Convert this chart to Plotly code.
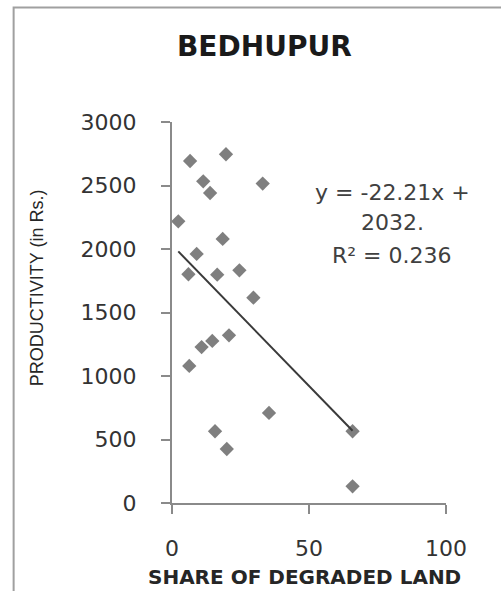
import plotly.graph_objects as go

# Data
share_degraded = [6.6, 19.7, 11.4, 13.9, 33.1, 2.3, 18.5, 9.0, 6.0, 16.5, 24.6,
                  29.7, 20.8, 14.7, 10.8, 6.3, 35.4, 15.7, 20.0, 65.9, 65.9]
productivity = [2693, 2746, 2533, 2441, 2515, 2218, 2079, 1961, 1801, 1798, 1832,
                1617, 1320, 1276, 1228, 1079, 709, 565, 425, 565, 131]
slope = -22.21
intercept = 2032
r2 = 0.236
x_ticks = [0, 50, 100]
y_ticks = [0, 500, 1000, 1500, 2000, 2500, 3000]

x_line = [min(share_degraded), max(share_degraded)]
y_line = [slope * v + intercept for v in x_line]

fig = go.Figure()
fig.add_trace(go.Scatter(
    x=share_degraded, y=productivity, mode="markers",
    marker=dict(symbol="diamond", size=11, color="#7f7f7f"),
    showlegend=False, hoverinfo="skip"))
fig.add_trace(go.Scatter(
    x=x_line, y=y_line, mode="lines",
    line=dict(color="#3a3a3a", width=2),
    showlegend=False, hoverinfo="skip"))

axis_col = "#8a8a8a"
tick_font = dict(family="DejaVu Sans", size=22, color="#333333")

def ann(text, x, y, font, **kw):
    return dict(text=text, xref="paper", yref="paper", x=x, y=y,
                xanchor="center", yanchor="middle", showarrow=False, font=font, **kw)

eq_font = dict(family="DejaVu Sans", size=22, color="#404040")

fig.update_layout(
    width=501, height=591,
    margin=dict(l=172, r=55, t=122, b=88),
    paper_bgcolor="white", plot_bgcolor="white",
    xaxis=dict(range=[0, 100], tickvals=x_ticks, showgrid=False, zeroline=False,
               showline=True, linecolor=axis_col, linewidth=2,
               ticks="outside", ticklen=9, tickwidth=2, tickcolor=axis_col,
               tickfont=tick_font, ticklabelstandoff=16),
    yaxis=dict(range=[0, 3000], tickvals=y_ticks, showgrid=False, zeroline=False,
               showline=True, linecolor=axis_col, linewidth=2,
               ticks="outside", ticklen=9, tickwidth=2, tickcolor=axis_col,
               tickfont=tick_font, ticklabelstandoff=20),
    shapes=[dict(type="rect", xref="paper", yref="paper",
                 x0=-0.578, x1=1.25, y0=-0.3, y1=1.3005,
                 line=dict(color="#a0a0a0", width=2))],
    annotations=[
        ann("<b>BEDHUPUR</b>", 0.336, 1.197,
            dict(family="DejaVu Sans", size=28, color="#1a1a1a")),
        ann("<b>SHARE OF DEGRADED LAND</b>", 0.485, -0.195,
            dict(family="DejaVu Sans", size=20, color="#262626")),
        ann("PRODUCTIVITY (in Rs.)", -0.493, 0.566,
            dict(family="Liberation Sans", size=18, color="#262626"), textangle=-90),
        ann(f"y = {slope}x +", 0.803, (502.7 - 192) / 381, eq_font),
        ann(f"{intercept}.", 0.803, (502.7 - 222) / 381, eq_font),
        ann(f"R² = {r2}", 0.803, (502.7 - 255) / 381, eq_font),
    ],
)

fig.write_html("out.html")
